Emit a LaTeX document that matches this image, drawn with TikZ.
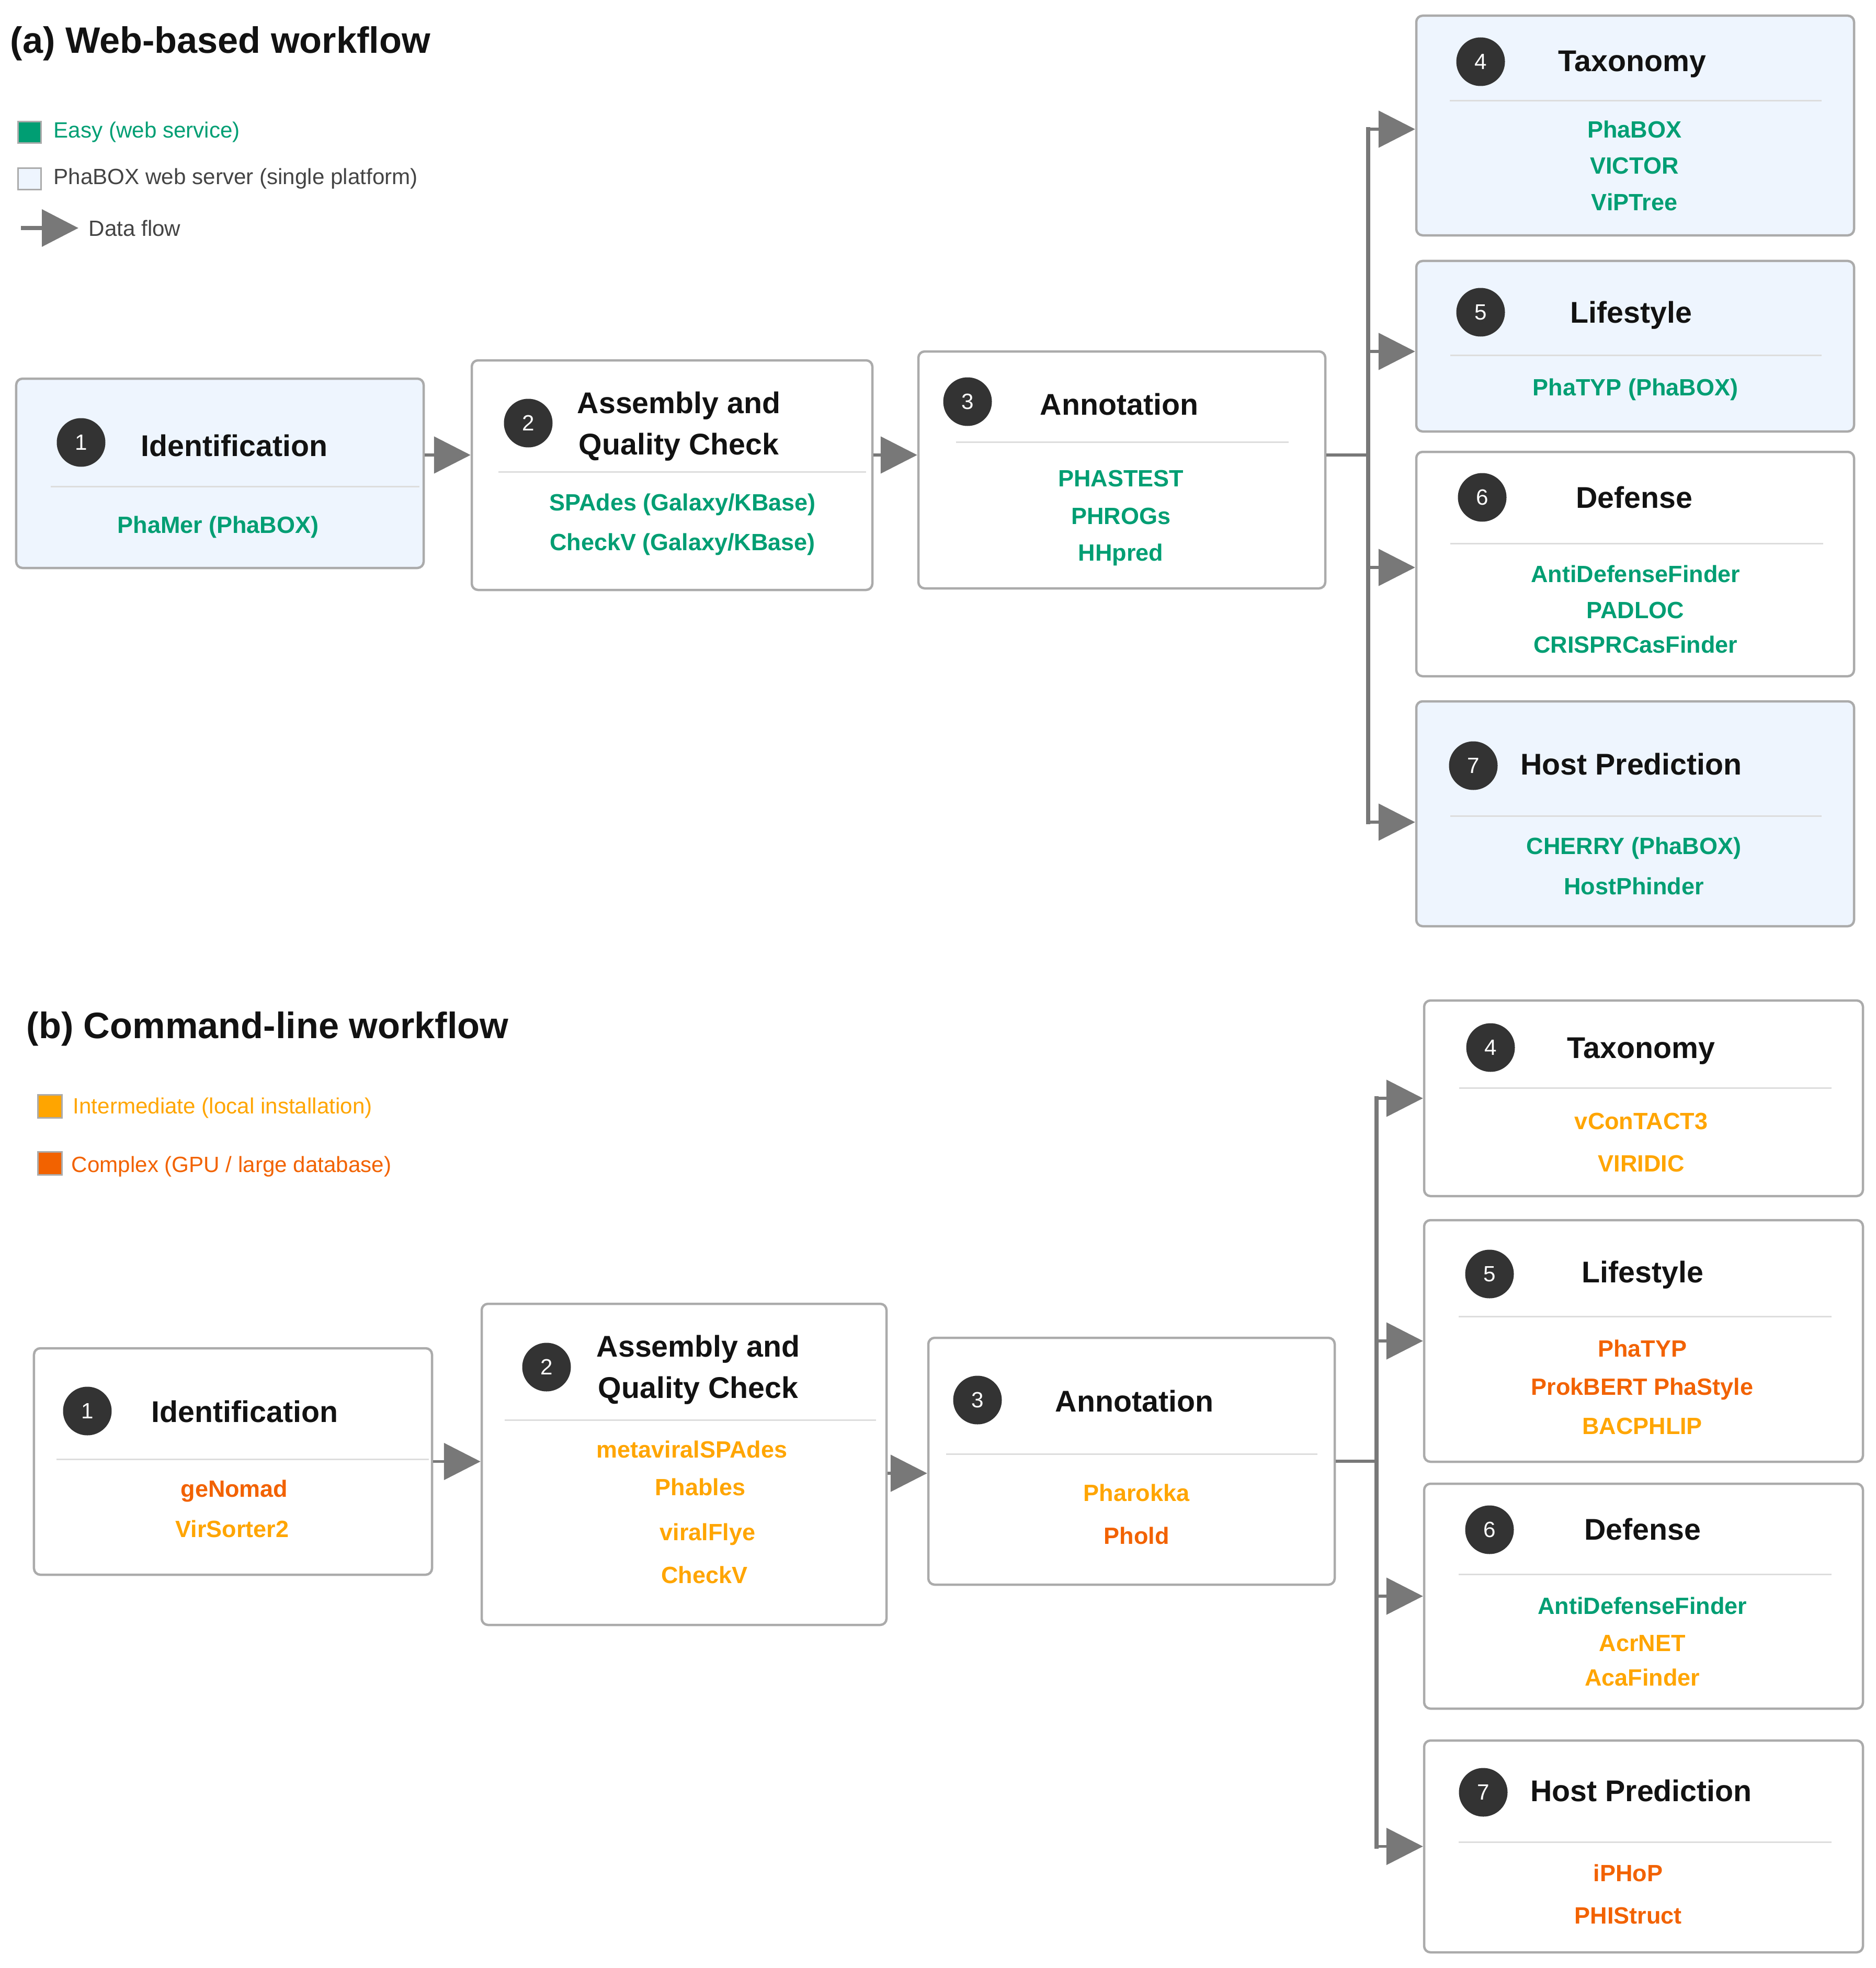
\documentclass[tikz,border=0pt]{standalone}
\usepackage{fontspec}
\setmainfont{Liberation Sans}
\usetikzlibrary{arrows.meta}

\definecolor{easy}{HTML}{009E73}
\definecolor{inter}{HTML}{FFA500}
\definecolor{cplx}{HTML}{F26200}
\definecolor{webfill}{HTML}{EEF5FE}
\definecolor{boxline}{HTML}{ABABAB}
\definecolor{sepline}{HTML}{DDDDDD}
\definecolor{flowgray}{HTML}{787878}
\definecolor{badgefill}{HTML}{333333}
\definecolor{legendtext}{HTML}{444444}

\tikzset{
  stage/.style={draw=boxline, line width=0.45mm, rounded corners=1.2mm, fill=white, inner sep=0pt},
  webstage/.style={stage, fill=webfill},
  badge/.style={circle, fill=badgefill, text=white, minimum size=9.3mm, inner sep=0pt,
    font=\fontsize{12}{14}\selectfont},
  titlefont/.style={inner sep=0pt, text=black!93, font=\fontsize{16.3}{22.5}\selectfont\bfseries},
  stagetitle/.style={titlefont, text height=4.1mm, text depth=0pt},
  tool/.style={inner sep=0pt, text height=3.2mm, text depth=0pt,
    font=\fontsize{12.8}{14}\selectfont\bfseries},
  divider/.style={draw=sepline, line width=0.3mm},
  flow/.style={draw=flowgray, line width=0.55mm, -{Triangle[length=7mm, width=7mm]}},
  trunk/.style={draw=flowgray, line width=0.8mm, line cap=rect},
  swatch/.style={draw=boxline, line width=0.3mm, minimum width=4.4mm, minimum height=4.1mm, inner sep=0pt},
  legendtxt/.style={anchor=west, inner sep=0pt, text height=3.0mm, text depth=0pt,
    font=\fontsize{12}{14}\selectfont},
  heading/.style={anchor=base west, inner sep=0pt, text=black!93,
    font=\fontsize{20}{24}\selectfont\bfseries}
}

\begin{document}
\begin{tikzpicture}[x=1mm, y=-1mm]
  \useasboundingbox (0,0) rectangle (358.7,376.3);

  % ---------------- (a) Web-based workflow ----------------
  \node[heading] (ahead) at (1.9,10.2) {(a) Web-based workflow};
  % Legend
  \node[swatch, fill=easy] (aeasy) at (5.6,25.3) {};
  \node[legendtxt, text=easy] (aeasyt) at (10.2,24.9) {Easy (web service)};
  \node[swatch, fill=webfill] (aweb) at (5.6,34.2) {};
  \node[legendtxt, text=legendtext] (awebt) at (10.2,33.8) {PhaBOX web server (single platform)};
  \coordinate (aflow) at (4.0,43.6);
  \node[legendtxt, text=legendtext] (aflowt) at (16.9,43.6) {Data flow};
  \draw[flow, line width=0.8mm] (aflow) -- ([xshift=-1.9mm]aflowt.west);

  % Stages
  \node[webstage, minimum width=77.9mm, minimum height=36.2mm] (a1) at (42.05,90.5) {};
  \node[stage, minimum width=76.6mm, minimum height=43.9mm] (a2) at (128.5,90.85) {};
  \node[stage, minimum width=77.8mm, minimum height=45.3mm] (a3) at (214.5,89.85) {};
  \node[webstage, minimum width=83.7mm, minimum height=42.0mm] (a4) at (312.65,24.0) {};
  \node[webstage, minimum width=83.7mm, minimum height=32.6mm] (a5) at (312.65,66.2) {};
  \node[stage, minimum width=83.7mm, minimum height=42.9mm] (a6) at (312.65,107.85) {};
  \node[webstage, minimum width=83.7mm, minimum height=43.0mm] (a7) at (312.65,155.6) {};

  % 1 Identification
  \node[badge] (a1n) at (15.5,84.6) {1};
  \node[stagetitle] (a1h) at (44.8,85.2) {Identification};
  \draw[divider] (9.7,93.0) -- (80.2,93.0);
  \node[tool, text=easy] (a1t1) at (41.7,100.3) {PhaMer (PhaBOX)};
  % 2 Assembly
  \node[badge] (a2n) at (101.0,80.9) {2};
  \node[titlefont, align=center] (a2h) at (129.8,81.5) {Assembly and\\Quality Check};
  \draw[divider] (95.3,90.2) -- (165.6,90.2);
  \foreach \y/\t [count=\i] in {96.0/{SPAdes (Galaxy/KBase)}, 103.6/{CheckV (Galaxy/KBase)}}
    \node[tool, text=easy] (a2t\i) at (130.5,\y) {\t};
  % 3 Annotation
  \node[badge] (a3n) at (185.0,76.8) {3};
  \node[stagetitle] (a3h) at (214.0,77.3) {Annotation};
  \draw[divider] (182.8,84.5) -- (246.4,84.5);
  \foreach \y/\t [count=\i] in {91.4/PHASTEST, 98.6/PHROGs, 105.6/HHpred}
    \node[tool, text=easy] (a3t\i) at (214.3,\y) {\t};
  % 4 Taxonomy
  \node[badge] (a4n) at (283.1,11.8) {4};
  \node[stagetitle] (a4h) at (312.1,11.6) {Taxonomy};
  \draw[divider] (277.2,19.3) -- (348.3,19.3);
  \foreach \y/\t [count=\i] in {24.8/PhaBOX, 31.7/VICTOR, 38.6/ViPTree}
    \node[tool, text=easy] (a4t\i) at (312.5,\y) {\t};
  % 5 Lifestyle
  \node[badge] (a5n) at (283.1,59.7) {5};
  \node[stagetitle] (a5h) at (311.9,59.7) {Lifestyle};
  \draw[divider] (277.3,67.9) -- (348.3,67.9);
  \node[tool, text=easy] (a5t1) at (312.7,74.0) {PhaTYP (PhaBOX)};
  % 6 Defense
  \node[badge] (a6n) at (283.4,95.1) {6};
  \node[stagetitle] (a6h) at (312.5,95.1) {Defense};
  \draw[divider] (277.3,103.9) -- (348.6,103.9);
  \foreach \y/\t [count=\i] in {109.7/AntiDefenseFinder, 116.6/PADLOC, 123.2/CRISPRCasFinder}
    \node[tool, text=easy] (a6t\i) at (312.7,\y) {\t};
  % 7 Host Prediction
  \node[badge] (a7n) at (281.7,146.4) {7};
  \node[stagetitle] (a7h) at (311.9,146.1) {Host Prediction};
  \draw[divider] (277.3,156.0) -- (348.3,156.0);
  \foreach \y/\t [count=\i] in {161.7/CHERRY (PhaBOX), 169.4/HostPhinder}
    \node[tool, text=easy] (a7t\i) at (312.4,\y) {\t};

  % Data flow
  \coordinate (ya) at (0,87.0);
  \draw[flow] (a1.east |- ya) -- (a2.west |- ya);
  \draw[flow] (a2.east |- ya) -- (a3.west |- ya);
  \coordinate (ja) at (261.6,87.0);
  \draw[flow, -] (a3.east |- ja) -- (ja);
  \coordinate (ina4) at ([yshift=-0.7mm]a4.west);
  \coordinate (ina5) at ([yshift=-1.0mm]a5.west);
  \coordinate (ina6) at ([yshift=-0.65mm]a6.west);
  \coordinate (ina7) at ([yshift=-1.6mm]a7.west);
  \draw[trunk] (ina4 -| ja) -- (ina7 -| ja);
  \foreach \n in {4,...,7}
    \draw[flow] (ina\n -| ja) -- (ina\n);

  % ---------------- (b) Command-line workflow ----------------
  \node[heading] (bhead) at (5.0,198.5) {(b) Command-line workflow};
  % Legend
  \node[swatch, fill=inter, minimum width=4.6mm, minimum height=4.4mm] (binter) at (9.5,211.5) {};
  \node[legendtxt, text=inter] (bintert) at (13.9,211.4) {Intermediate (local installation)};
  \node[swatch, fill=cplx, minimum width=4.6mm, minimum height=4.4mm] (bcplx) at (9.5,222.4) {};
  \node[legendtxt, text=cplx] (bcplxt) at (13.6,222.6) {Complex (GPU / large database)};

  % Stages
  \node[stage, minimum width=76.1mm, minimum height=43.3mm] (b1) at (44.55,279.45) {};
  \node[stage, minimum width=77.4mm, minimum height=61.4mm] (b2) at (130.8,280.0) {};
  \node[stage, minimum width=77.7mm, minimum height=47.2mm] (b3) at (216.35,279.4) {};
  \node[stage, minimum width=83.9mm, minimum height=37.4mm] (b4) at (314.25,210.0) {};
  \node[stage, minimum width=83.9mm, minimum height=46.2mm] (b5) at (314.25,256.4) {};
  \node[stage, minimum width=83.9mm, minimum height=43.0mm] (b6) at (314.25,305.2) {};
  \node[stage, minimum width=83.9mm, minimum height=40.5mm] (b7) at (314.25,353.05) {};

  % 1 Identification
  \node[badge] (b1n) at (16.7,269.8) {1};
  \node[stagetitle] (b1h) at (46.8,269.9) {Identification};
  \draw[divider] (10.8,279.0) -- (82.0,279.0);
  \foreach \x/\y/\c/\t [count=\i] in {44.8/284.6/cplx/geNomad, 44.4/292.3/inter/VirSorter2}
    \node[tool, text=\c] (b1t\i) at (\x,\y) {\t};
  % 2 Assembly
  \node[badge] (b2n) at (104.5,261.4) {2};
  \node[titlefont, align=center] (b2h) at (133.5,261.9) {Assembly and\\Quality Check};
  \draw[divider] (96.5,271.5) -- (167.5,271.5);
  \foreach \x/\y/\t [count=\i] in {132.3/277.1/metaviralSPAdes, 133.9/284.3/Phables,
      135.3/292.9/viralFlye, 134.7/301.1/CheckV}
    \node[tool, text=inter] (b2t\i) at (\x,\y) {\t};
  % 3 Annotation
  \node[badge] (b3n) at (186.9,267.7) {3};
  \node[stagetitle] (b3h) at (216.9,267.9) {Annotation};
  \draw[divider] (180.9,278.0) -- (251.9,278.0);
  \foreach \y/\c/\t [count=\i] in {285.4/inter/Pharokka, 293.6/cplx/Phold}
    \node[tool, text=\c] (b3t\i) at (217.3,\y) {\t};
  % 4 Taxonomy
  \node[badge] (b4n) at (285.0,200.3) {4};
  \node[stagetitle] (b4h) at (313.8,200.3) {Taxonomy};
  \draw[divider] (279.0,208.0) -- (350.2,208.0);
  \foreach \y/\t [count=\i] in {214.3/vConTACT3, 222.4/VIRIDIC}
    \node[tool, text=inter] (b4t\i) at (313.8,\y) {\t};
  % 5 Lifestyle
  \node[badge] (b5n) at (284.8,243.6) {5};
  \node[stagetitle] (b5h) at (314.1,243.2) {Lifestyle};
  \draw[divider] (278.9,251.7) -- (350.2,251.7);
  \foreach \y/\c/\t [count=\i] in {257.8/cplx/PhaTYP, 265.1/cplx/ProkBERT PhaStyle, 272.6/inter/BACPHLIP}
    \node[tool, text=\c] (b5t\i) at (314.0,\y) {\t};
  % 6 Defense
  \node[badge] (b6n) at (284.8,292.5) {6};
  \node[stagetitle] (b6h) at (314.1,292.4) {Defense};
  \draw[divider] (278.9,301.0) -- (350.2,301.0);
  \foreach \y/\c/\t [count=\i] in {307.0/easy/AntiDefenseFinder, 314.1/inter/AcrNET, 320.7/inter/AcaFinder}
    \node[tool, text=\c] (b6t\i) at (314.0,\y) {\t};
  % 7 Host Prediction
  \node[badge] (b7n) at (283.6,342.7) {7};
  \node[stagetitle] (b7h) at (313.8,342.4) {Host Prediction};
  \draw[divider] (278.9,352.2) -- (350.2,352.2);
  \foreach \y/\t [count=\i] in {358.1/iPHoP, 366.2/PHIStruct}
    \node[tool, text=cplx] (b7t\i) at (311.3,\y) {\t};

  % Data flow
  \draw[flow] (b1.east) -- (b1.east -| b2.west);
  \coordinate (yb) at (0,281.7);
  \draw[flow] (b2.east |- yb) -- (b3.west |- yb);
  \coordinate (jb) at (263.2,279.4);
  \draw[flow, -] (b3.east) -- (jb);
  \draw[trunk] (b4.west -| jb) -- (b7.west -| jb);
  \foreach \n in {4,...,7}
    \draw[flow] (b\n.west -| jb) -- (b\n.west);
\end{tikzpicture}
\end{document}
